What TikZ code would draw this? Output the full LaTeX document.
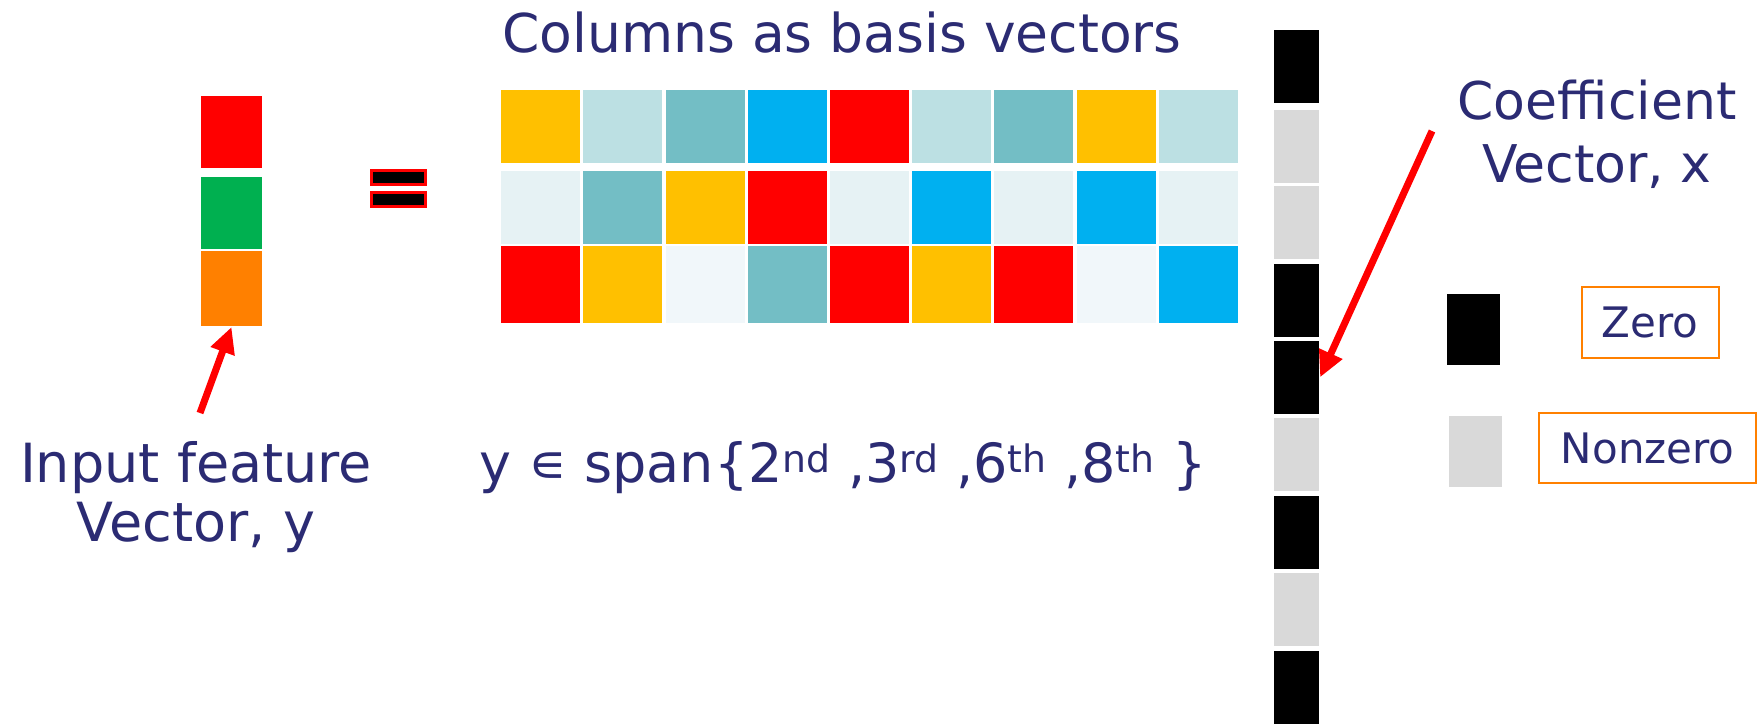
\documentclass[tikz,border=0pt]{standalone}
\usepackage{fontspec}
\setmainfont{DejaVu Sans}
\usepackage{tikz}
\usetikzlibrary{arrows.meta,positioning}

\definecolor{navy}{RGB}{43,43,115}
\definecolor{gold}{HTML}{FFC000}
\definecolor{paleteal}{HTML}{BCE0E3}
\definecolor{midteal}{HTML}{73BEC5}
\definecolor{sky}{HTML}{00B0F0}
\definecolor{mist}{HTML}{E6F2F4}
\definecolor{frost}{HTML}{F1F7FA}
\definecolor{leaf}{HTML}{00B050}
\definecolor{amber}{HTML}{FF8000}
\definecolor{ash}{HTML}{D9D9D9}

\tikzset{
  cell/.style={rectangle, draw=white, line width=1pt, inner sep=0pt,
    minimum width=80pt, minimum height=73pt},
  coef/.style={cell, minimum width=46pt, minimum height=74pt},
  eqbar/.style={rectangle, draw=red, fill=black, line width=3pt, inner sep=0pt,
    minimum width=54pt, minimum height=14pt},
  tag/.style={rectangle, draw=amber, line width=2pt, text=navy, inner sep=0pt,
    font=\fontsize{42}{48}\selectfont},
  label/.style={text=navy, inner sep=0pt, align=center},
  pointer/.style={draw=red, line width=7pt, -{Triangle[length=26pt,width=24pt]}}
}

\begin{document}
\begin{tikzpicture}[x=1pt, y=-1pt]
  \useasboundingbox (0,0) rectangle (1758,724);

  % input vector y
  \node[cell, minimum width=62pt, fill=red]  (y_1) at (231.5,131.5) {};
  \node[cell, minimum width=62pt, fill=leaf] (y_2) at (231.5,212.5) {};
  \node[cell, minimum width=62pt, minimum height=76pt, fill=amber] (y_3) at (231.5,288.5) {};

  % equals sign
  \node[eqbar] (eq_1) at (398,177.5) {};
  \node[eqbar] (eq_2) at (398,199.5) {};

  % dictionary, one row at a time
  \foreach \row [count=\r] in {
      {gold,paleteal,midteal,sky,red,paleteal,midteal,gold,paleteal},
      {mist,midteal,gold,red,mist,sky,mist,sky,mist},
      {red,gold,frost,midteal,red,gold,red,frost,sky}}
    \foreach \shade [count=\c] in \row {
      \pgfmathsetmacro{\ry}{{126.2,207.4,284.6}[\r-1]}
      \pgfmathsetmacro{\rh}{{74,74,78}[\r-1]}
      \node[cell, minimum height=\rh pt, fill=\shade] (m_\r_\c)
        at ({540.75+(\c-1)*82.2},\ry) {};
    }

  % coefficient vector x
  \foreach \yy/\shade [count=\i] in {66.3/black,146.6/ash,222.8/ash,300/black,
      377.3/black,454.8/ash,532/black,609.3/ash,687/black}
    \node[coef, fill=\shade] (x_\i) at (1296.6,\yy) {};

  % legend
  \node[cell, minimum width=54pt, minimum height=72pt, fill=black] (key_0) at (1473.3,329) {};
  \node[cell, minimum width=54pt, minimum height=72pt, fill=ash] (key_1) at (1475.5,451.5) {};
  \node[tag, minimum width=137pt, minimum height=71pt] (zero) at (1650.3,322.5) {Zero};
  \node[tag, minimum width=217pt, minimum height=70pt] (nonzero) at (1647.8,448) {Nonzero};

  % captions (base anchor sits on the last line)
  \node[label, anchor=base, font=\fontsize{53.5}{60}\selectfont] (title) at (842,52.7)
    {Columns as basis vectors};
  \node[label, anchor=base, font=\fontsize{54}{59}\selectfont] (input) at (196,541)
    {Input feature\\Vector, y};
  \node[label, anchor=base, font=\fontsize{54}{59}\selectfont] (span) at (843,482)
    {y ∊ span\{2\textsuperscript{nd} ,3\textsuperscript{rd} ,6\textsuperscript{th} ,8\textsuperscript{th} \}};
  \node[label, anchor=base, font=\fontsize{52}{63}\selectfont] (coeff) at (1597,182)
    {Coefficient\\Vector, x};

  % arrows
  \coordinate (y_tail) at (200,413);
  \coordinate (x_tail) at (1432,131);
  \path[pointer] (y_tail) -- (y_3.south);
  \path[pointer] (x_tail) -- (x_5.east);
\end{tikzpicture}
\end{document}
